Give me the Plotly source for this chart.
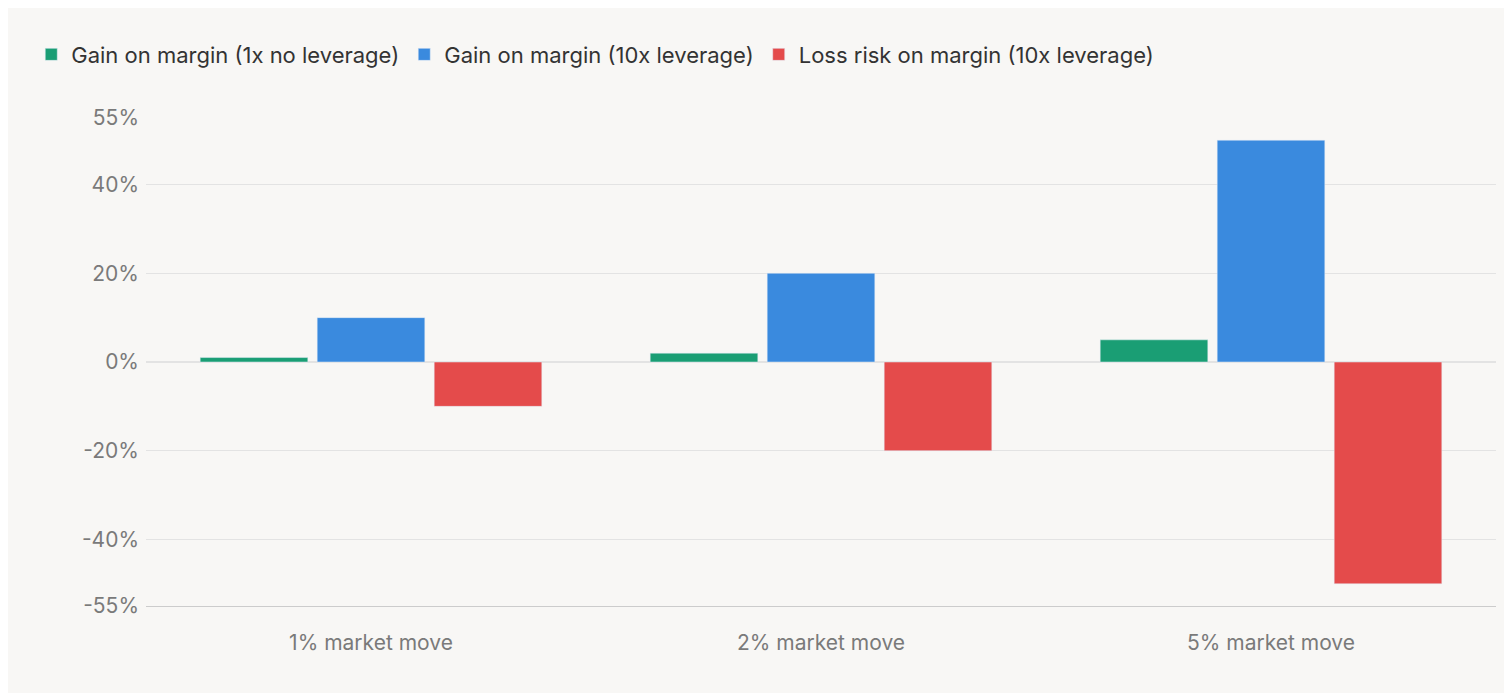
import plotly.graph_objects as go

categories = ["1% market move", "2% market move", "5% market move"]
gain_1x = [1, 2, 5]
gain_10x = [10, 20, 50]
loss_10x = [-10, -20, -50]
tick_vals = [-55, -40, -20, 0, 20, 40, 55]
tick_text = ["-55%", "-40%", "-20%", "0%", "20%", "40%", "55%"]

fig = go.Figure()
fig.add_trace(go.Bar(x=categories, y=gain_1x, name="Gain on margin (1x no leverage)", marker_color="#1a9e74"))
fig.add_trace(go.Bar(x=categories, y=gain_10x, name="Gain on margin (10x leverage)", marker_color="#3a8ade"))
fig.add_trace(go.Bar(x=categories, y=loss_10x, name="Loss risk on margin (10x leverage)", marker_color="#e44b4b"))

fig.update_layout(
    width=1512, height=693,
    paper_bgcolor="#f8f7f5", plot_bgcolor="#f8f7f5",
    margin=dict(l=138, r=24, t=110, b=95, autoexpand=False),
    barmode="group", bargap=0.22, bargroupgap=0.08,
    font=dict(family="Inter, Noto Sans, sans-serif", size=21, color="#7a7a7a"),
    showlegend=True,
    legend=dict(orientation="h", x=-0.085, y=1.13, xanchor="left", yanchor="middle",
                font=dict(size=22, color="#333333"), traceorder="normal",
                itemwidth=30),
    xaxis=dict(showgrid=False, showline=True, linecolor="#cccccc", ticks="",
               ticklabelstandoff=18, tickfont=dict(size=21, color="#7a7a7a")),
    yaxis=dict(range=[-55, 55], tickvals=tick_vals, ticktext=tick_text,
               gridcolor="#e3e3e3", zeroline=True, zerolinecolor="#e3e3e3",
               ticks="", ticklabelstandoff=6, tickfont=dict(size=21, color="#7a7a7a")),
)

fig.write_html("out.html")
